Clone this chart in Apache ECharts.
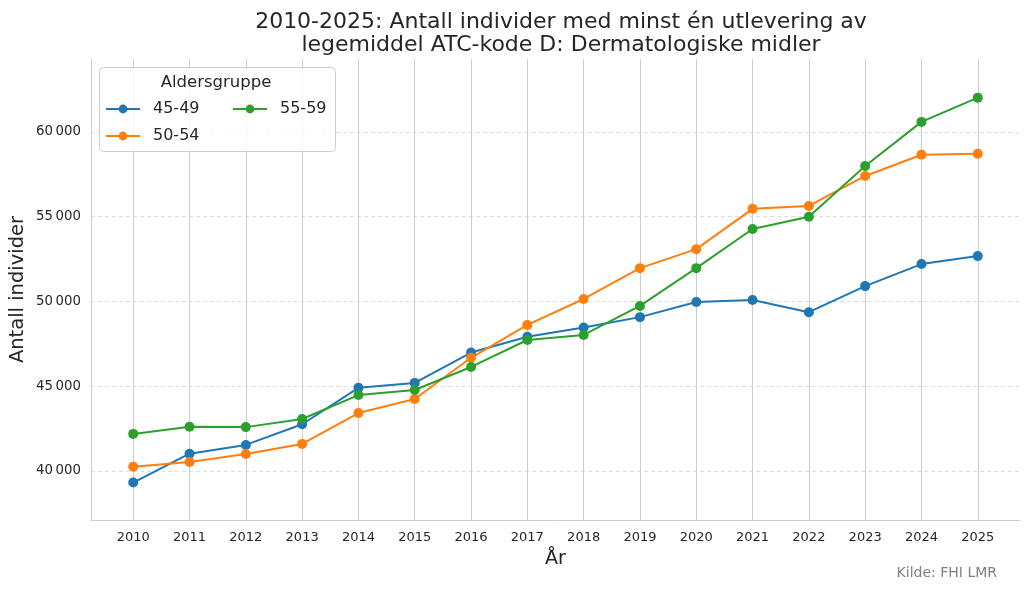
<!DOCTYPE html>
<html>
<head>
<meta charset="utf-8">
<script src="https://cdn.jsdelivr.net/npm/echarts@6/dist/echarts.min.js"></script>
<style>
  html, body { margin: 0; padding: 0; background: #fff; }
  #main { width: 1030px; height: 591px; }
</style>
</head>
<body>
<div id="main"></div>
<script>
var years = [2010, 2011, 2012, 2013, 2014, 2015, 2016, 2017, 2018, 2019, 2020, 2021, 2022, 2023, 2024, 2025];
var yTicks = [40000, 45000, 50000, 55000, 60000];

var age4549 = [39310, 41010, 41530, 42750, 44900, 45190, 46980, 47910, 48460, 49070, 49960, 50080, 49360, 50900, 52200, 52670];
var age5054 = [40240, 40520, 40990, 41590, 43410, 44240, 46670, 48610, 50140, 51960, 53080, 55460, 55630, 57400, 58650, 58710];
var age5559 = [42180, 42600, 42580, 43060, 44470, 44770, 46130, 47720, 48020, 49730, 51960, 54270, 54990, 57990, 60590, 62020];

var groups = ['45-49', '50-54', '55-59'];
var colors = ['#1f77b4', '#ff7f0e', '#2ca02c'];

function pairs(vals) {
    return years.map(function (y, i) { return [y, vals[i]]; });
}

var chart = echarts.init(document.getElementById('main'));
var font = 'DejaVu Sans';
var ink = '#262626';

function makeSeries(name, vals, color) {
    return {
        name: name,
        type: 'line',
        data: pairs(vals),
        symbol: 'circle',
        symbolSize: 10,
        showSymbol: true,
        lineStyle: { width: 2, color: color },
        itemStyle: { color: color },
        emphasis: { disabled: true },
        z: 3
    };
}

var legendBase = {
    orient: 'vertical',
    top: 96,
    itemWidth: 34, itemHeight: 11, itemGap: 11,
    textStyle: { fontFamily: font, fontSize: 16, color: ink, padding: [0, 0, 0, 8] },
    z: 11
};

var option = {
    animation: false,
    textStyle: { fontFamily: font },
    title: {
        text: '2010-2025: Antall individer med minst én utlevering av\nlegemiddel ATC-kode D: Dermatologiske midler',
        left: 556,
        textAlign: 'center',
        top: 6,
        textStyle: { fontFamily: font, fontSize: 22, fontWeight: 'normal', color: ink, lineHeight: 23 }
    },
    grid: { left: 91, right: 10, top: 59, bottom: 71, outerBoundsMode: 'none', containLabel: false },
    legend: [
        Object.assign({}, legendBase, { data: ['45-49', '50-54'], left: 100 }),
        Object.assign({}, legendBase, { data: ['55-59'], left: 227 })
    ],
    graphic: [
        {
            type: 'rect', z: 10,
            shape: { x: 99.5, y: 67.5, width: 236, height: 84, r: 4 },
            style: { fill: 'rgba(255,255,255,0.8)', stroke: '#cccccc', lineWidth: 1 }
        },
        {
            type: 'text', z: 11,
            x: 216, y: 83,
            style: { text: 'Aldersgruppe', font: '16.5px "DejaVu Sans"', fill: ink, align: 'center', verticalAlign: 'middle' }
        },
        {
            type: 'text',
            x: 997, y: 573,
            style: { text: 'Kilde: FHI LMR', font: '14px "DejaVu Sans"', fill: '#808080', align: 'right', verticalAlign: 'middle' }
        }
    ],
    xAxis: {
        type: 'value',
        min: 2009.25,
        max: 2025.75,
        name: 'År',
        nameLocation: 'middle',
        nameGap: 30,
        nameTextStyle: { fontFamily: font, fontSize: 19, color: ink },
        axisLine: { show: true, lineStyle: { color: '#cccccc', width: 1 } },
        axisTick: { show: false, customValues: years },
        axisLabel: {
            customValues: years,
            fontFamily: font, fontSize: 13, color: ink, margin: 11,
            formatter: function (v) { return String(v); }
        },
        splitLine: { show: true, lineStyle: { color: '#cccccc', width: 1, type: 'solid' } }
    },
    yAxis: {
        type: 'value',
        min: 37100,
        max: 64300,
        name: 'Antall individer',
        nameLocation: 'middle',
        nameGap: 63,
        nameMoveOverlap: false,
        nameTextStyle: { fontFamily: font, fontSize: 19.5, color: ink },
        axisLine: { show: true, lineStyle: { color: '#cccccc', width: 1 } },
        axisTick: { show: false, customValues: yTicks },
        axisLabel: {
            customValues: yTicks,
            fontFamily: font, fontSize: 13.3, color: ink, margin: 10,
            formatter: function (v) {
                return String(v).replace(/\B(?=(\d{3})+(?!\d))/g, '\u2009');
            }
        },
        splitLine: { show: true, lineStyle: { color: '#dddddd', width: 1, type: [4, 3] } }
    },
    series: [
        makeSeries(groups[0], age4549, colors[0]),
        makeSeries(groups[1], age5054, colors[1]),
        makeSeries(groups[2], age5559, colors[2])
    ]
};

chart.setOption(option);
</script>
</body>
</html>
